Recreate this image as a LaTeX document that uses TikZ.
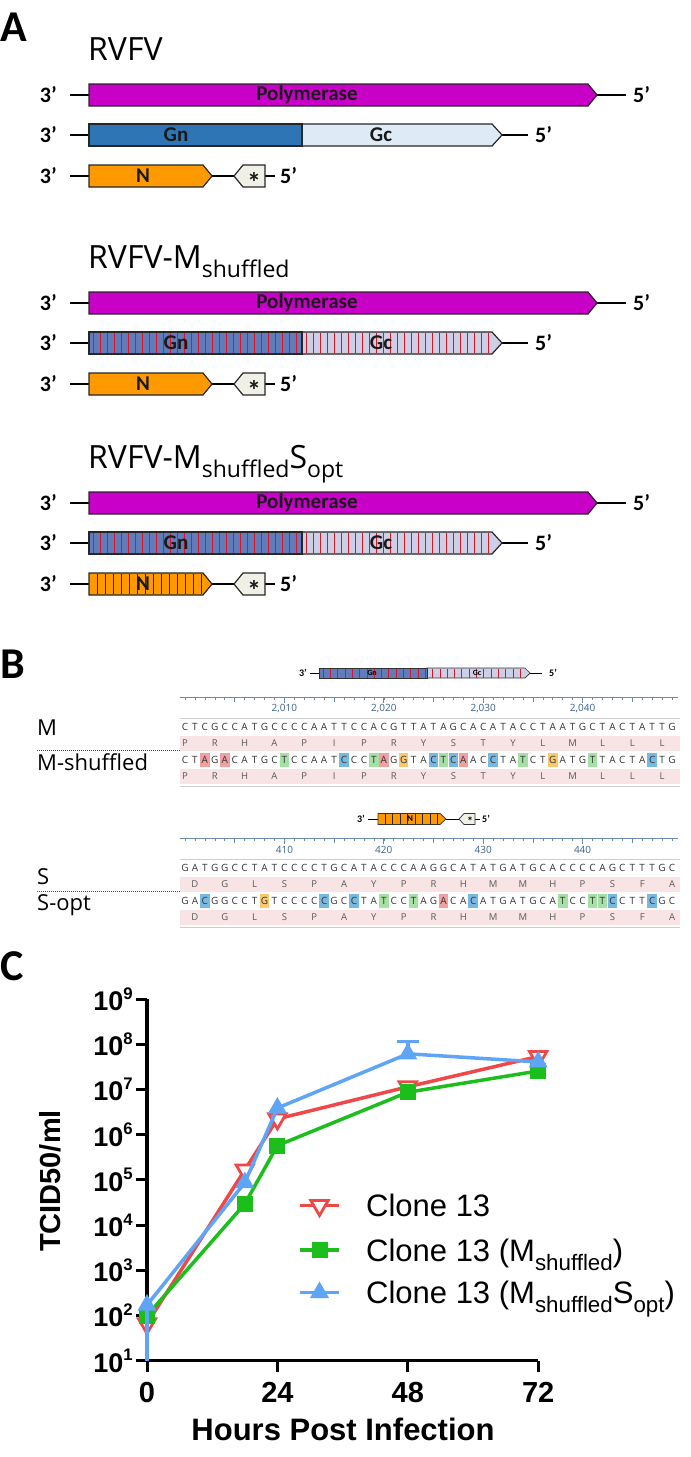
\documentclass[tikz,border=0pt]{standalone}
\usepackage{fontspec}
\setmainfont{Carlito}
\newfontfamily\opensans{Open Sans}
\newfontfamily\arialfont{Liberation Sans}
\usetikzlibrary{shapes.geometric}

\definecolor{polyc}{RGB}{200,0,200}
\definecolor{gnc}{RGB}{46,117,182}
\definecolor{gcc}{RGB}{222,235,247}
\definecolor{gnsh}{RGB}{96,124,186}
\definecolor{gcsh}{RGB}{204,207,230}
\definecolor{nc}{RGB}{255,153,0}
\definecolor{starc}{RGB}{240,240,230}
\definecolor{stripec}{RGB}{225,20,30}
\definecolor{rulec}{RGB}{110,138,170}
\definecolor{rulenum}{RGB}{60,95,140}
\definecolor{sepc}{RGB}{205,205,205}
\definecolor{aac}{RGB}{248,228,228}
\definecolor{hlA}{RGB}{240,160,160}
\definecolor{hlT}{RGB}{165,225,165}
\definecolor{hlC}{RGB}{120,185,225}
\definecolor{hlG}{RGB}{250,200,110}
\definecolor{redc}{RGB}{240,72,72}
\definecolor{greenc}{RGB}{28,190,28}
\definecolor{bluec}{RGB}{95,165,245}

\newcommand{\lowtext}[1]{\raisebox{-0.3em}{\scalebox{0.72}{#1}}}
\newcommand{\uptext}[1]{\raisebox{0.42em}{\scalebox{0.62}{#1}}}
% arrow shaped gene: start, body end, tip, y centre, half height, style
\newcommand{\genebar}[6]{\draw[#6] ({#1},{#4-#5}) -- ({#2},{#4-#5}) -- ({#3},{#4}) -- ({#2},{#4+#5}) -- ({#1},{#4+#5}) -- cycle;}
% box pointing left: tip, body start, body end, y centre, half height, style
\newcommand{\starbox}[6]{\draw[#6] ({#1},{#4}) -- ({#2},{#4-#5}) -- ({#3},{#4-#5}) -- ({#3},{#4+#5}) -- ({#2},{#4+#5}) -- cycle;}

\begin{document}
\begin{tikzpicture}[x=1pt,y=-1pt]
  \tikzstyle{outl}=[draw=black!85,line width=1.2pt]
  \tikzstyle{strand}=[draw=black,line width=2pt]
  \tikzstyle{endlab}=[font=\fontsize{22}{22}\selectfont\bfseries,inner sep=0pt]
  \tikzstyle{barlab}=[font=\fontsize{21}{21}\selectfont\bfseries,text=black!90,inner sep=0pt]
  \tikzstyle{starlab}=[font=\fontsize{28}{28}\selectfont\bfseries,text=black!90,inner sep=0pt,yshift=-6pt]
  \tikzstyle{title}=[font=\opensans\fontsize{32}{32}\selectfont,anchor=base west,inner sep=0pt]
  \tikzstyle{panel}=[font=\fontsize{44}{44}\selectfont\bfseries,anchor=north west,inner sep=0pt]
  \tikzstyle{redstripe}=[draw=stripec,line width=0.9pt]
  \tikzstyle{blackstripe}=[draw=black!85,line width=0.9pt]
  \tikzstyle{seqlet}=[font=\opensans\fontsize{10}{10}\selectfont,text=black!80,inner sep=0pt]
  \tikzstyle{aalet}=[font=\opensans\fontsize{9.5}{10}\selectfont,text=black!65,inner sep=0pt]
  \tikzstyle{rulernum}=[font=\opensans\fontsize{10}{10}\selectfont,text=rulenum,inner sep=0pt]
  \tikzstyle{seqname}=[font=\opensans\fontsize{22}{22}\selectfont,anchor=base west,inner sep=0pt]
  \tikzstyle{tinylab}=[font=\fontsize{10}{10}\selectfont\bfseries,inner sep=0pt]
  \tikzstyle{axis}=[draw=black,line width=3.5pt]
  \tikzstyle{ylab}=[font=\arialfont\bfseries\fontsize{27}{27}\selectfont,inner sep=0pt]
  \tikzstyle{xlab}=[font=\arialfont\bfseries\fontsize{29}{29}\selectfont,inner sep=0pt]
  \tikzstyle{redline}=[draw=redc,line width=3.5pt]
  \tikzstyle{greenline}=[draw=greenc,line width=3.5pt]
  \tikzstyle{blueline}=[draw=bluec,line width=3.5pt]
  \tikzstyle{redmark}=[regular polygon,regular polygon sides=3,shape border rotate=180,draw=redc,line width=2.8pt,fill=white,minimum size=20pt,inner sep=0pt]
  \tikzstyle{greenmark}=[rectangle,fill=greenc,minimum size=16pt,inner sep=0pt]
  \tikzstyle{bluemark}=[regular polygon,regular polygon sides=3,fill=bluec,minimum size=22pt,inner sep=0pt]
  \tikzstyle{legtext}=[font=\arialfont\fontsize{31}{31}\selectfont,anchor=base west,inner sep=0pt]

  \useasboundingbox (0,0) rectangle (691,1457);

  \node[panel] (pa) at (0,13) {A};
  \node[panel] (pb) at (0,650) {B};
  \node[panel] (pc) at (0,951) {C};

  % ---------- A: genome segments ----------
  \foreach \gy/\g/\gn/\gc/\name in {0/1/gnc/gcc/{RVFV},208/2/gnsh/gcsh/{RVFV-M\lowtext{shuffled}},408/3/gnsh/gcsh/{RVFV-M\lowtext{shuffled}S\lowtext{opt}}} {
    \node[title] (t\g) at (88,{60+\gy}) {\name};
    % L
    \node[endlab,anchor=east] (Lthree\g) at (57,{95+\gy}) {3’};
    \coordinate (Lin\g) at (70,{95+\gy});
    \coordinate (Lout\g) at (626,{95+\gy});
    \draw[strand] (Lin\g) -- (Lout\g);
    \genebar{89}{588}{597}{95+\gy}{11}{outl,fill=polyc}
    \node[barlab] (pol\g) at (307,{95+\gy}) {Polymerase};
    \node[endlab,anchor=west] (Lfive\g) at (633,{95+\gy}) {5’};
    % M
    \node[endlab,anchor=east] (Mthree\g) at (57,{135+\gy}) {3’};
    \coordinate (Min\g) at (70,{135+\gy});
    \coordinate (Mout\g) at (528,{135+\gy});
    \draw[strand] (Min\g) -- (Mout\g);
    \genebar{302}{492}{502}{135+\gy}{11}{outl,fill=\gc}
    \draw[outl,fill=\gn] (89,{124+\gy}) rectangle (302,{146+\gy});
    \ifnum\g>1
      \foreach \sx in {93,100,...,299} \draw[redstripe] (\sx,{124.8+\gy}) -- (\sx,{145.2+\gy});
      \foreach \sx in {306,313,...,490} \draw[redstripe] (\sx,{124.8+\gy}) -- (\sx,{145.2+\gy});
    \fi
    \node[barlab] (gn\g) at (176,{135+\gy}) {Gn};
    \node[barlab] (gc\g) at (381,{135+\gy}) {Gc};
    \node[endlab,anchor=west] (Mfive\g) at (535,{135+\gy}) {5’};
    % S
    \node[endlab,anchor=east] (Sthree\g) at (57,{176+\gy}) {3’};
    \coordinate (Sin\g) at (70,{176+\gy});
    \coordinate (Sout\g) at (275,{176+\gy});
    \draw[strand] (Sin\g) -- (Sout\g);
    \genebar{89}{203}{212}{176+\gy}{11}{outl,fill=nc}
    \ifnum\g=3
      \foreach \sx in {97,105,...,201} \draw[blackstripe] (\sx,{165.8+\gy}) -- (\sx,{186.2+\gy});
    \fi
    \starbox{234}{243}{265}{176+\gy}{11}{outl,fill=starc}
    \node[barlab] (n\g) at (143,{176+\gy}) {N};
    \node[starlab] (st\g) at (254,{176+\gy}) {*};
    \node[endlab,anchor=west] (Sfive\g) at (280,{176+\gy}) {5’};
  }

  % ---------- B: M segment alignment ----------
  \node[tinylab,anchor=east] (mthree) at (307,673) {3’};
  \coordinate (min) at (310,673);
  \coordinate (mout) at (542,673);
  \draw[line width=1pt] (min) -- (mout);
  \genebar{427}{525}{530}{673}{5}{draw=black!80,line width=0.7pt,fill=gcsh}
  \draw[draw=black!80,line width=0.7pt,fill=gnsh] (319,668) rectangle (427,678);
  \foreach \sx in {323,330.3,...,524} \draw[draw=stripec,line width=0.6pt] (\sx,668.5) -- (\sx,677.5);
  \node[font=\fontsize{8}{8}\selectfont\bfseries,inner sep=0pt] (mgn) at (372,673) {Gn};
  \node[font=\fontsize{8}{8}\selectfont\bfseries,inner sep=0pt] (mgc) at (477,673) {Gc};
  \node[tinylab,anchor=west] (mfive) at (549,673) {5’};

  \draw[rulec,line width=0.8pt] (180,697) -- (678,697);
  \foreach \i in {0,...,49} \draw[rulec,line width=0.6pt] ({185+\i*9.94},697) -- ++(0,3);
  \foreach \i in {5,15,25,35,45} \draw[rulec,line width=0.6pt] ({185+\i*9.94},697) -- ++(0,4.5);
  \foreach \i/\lab in {10/{2,010},20/{2,020},30/{2,030},40/{2,040}} {
    \draw[rulec,line width=0.7pt] ({185+\i*9.94},697) -- ++(0,6);
    \node[rulernum] (mr\i) at ({185+\i*9.94},709) {\lab};
  }
  \draw[sepc,line width=0.8pt] (180,718) -- (680,718);
  \foreach \c [count=\i from 0] in {C,T,C,G,C,C,A,T,G,C,C,C,C,A,A,T,T,C,C,A,C,G,T,T,A,T,A,G,C,A,C,A,T,A,C,C,T,A,A,T,G,C,T,A,C,T,A,T,T,G}
    \node[seqlet] (ma\i) at ({185+\i*9.94},727) {\c};
  \fill[aac] (180,736) rectangle (680,751);
  \foreach \a [count=\i from 0] in {P,R,H,A,P,I,P,R,Y,S,T,Y,L,M,L,L,L}
    \node[aalet] (mpa\i) at ({185+3*\i*9.94},743.5) {\a};
  \foreach \i/\c in {2/A,4/A,10/T,16/C,19/T,20/A,22/G,25/C,26/T,27/C,28/A,31/C,34/T,37/G,41/T,47/C}
    \fill[fill=hl\c] ({185+\i*9.94-4.8},753) rectangle ++(9.6,14);
  \foreach \c [count=\i from 0] in {C,T,A,G,A,C,A,T,G,C,T,C,C,A,A,T,C,C,C,T,A,G,G,T,A,C,T,C,A,A,C,C,T,A,T,C,T,G,A,T,G,T,T,A,C,T,A,C,T,G}
    \node[seqlet] (mb\i) at ({185+\i*9.94},760) {\c};
  \fill[aac] (180,769) rectangle (680,784);
  \foreach \a [count=\i from 0] in {P,R,H,A,P,I,P,R,Y,S,T,Y,L,M,L,L,L}
    \node[aalet] (mpb\i) at ({185+3*\i*9.94},776.5) {\a};
  \draw[sepc,line width=0.8pt] (180,786) -- (680,786);

  \node[seqname] (mname) at (37,735) {M};
  \coordinate (mdl) at (37,750);
  \coordinate (mdr) at (180,750);
  \draw[black!70,densely dotted,line width=1pt] (mdl) -- (mdr);
  \node[seqname] (msname) at (37,770) {M-shuffled};

  % ---------- B: S segment alignment ----------
  \node[tinylab,anchor=east] (sthree) at (365,819) {3’};
  \coordinate (sin) at (368,819);
  \coordinate (sout) at (480,819);
  \draw[line width=1pt] (sin) -- (sout);
  \genebar{378}{440}{446}{819}{5.5}{draw=black!80,line width=0.7pt,fill=nc}
  \foreach \sx in {385,392.5,...,438} \draw[draw=black!85,line width=0.7pt] (\sx,814) -- (\sx,824);
  \starbox{459}{464}{475}{819}{5.5}{draw=black!80,line width=0.7pt,fill=starc}
  \node[font=\fontsize{9}{9}\selectfont\bfseries,inner sep=0pt] (sn) at (410,819) {N};
  \node[font=\fontsize{12}{12}\selectfont\bfseries,inner sep=0pt,yshift=-2.5pt] (sst) at (470,819) {*};
  \node[tinylab,anchor=west] (sfive) at (482,819) {5’};

  \draw[rulec,line width=0.8pt] (180,838) -- (678,838);
  \foreach \i in {0,...,49} \draw[rulec,line width=0.6pt] ({185+\i*9.94},838) -- ++(0,3);
  \foreach \i in {5,15,25,35,45} \draw[rulec,line width=0.6pt] ({185+\i*9.94},838) -- ++(0,4.5);
  \foreach \i/\lab in {10/410,20/420,30/430,40/440} {
    \draw[rulec,line width=0.7pt] ({185+\i*9.94},838) -- ++(0,6);
    \node[rulernum] (sr\i) at ({185+\i*9.94},850) {\lab};
  }
  \draw[sepc,line width=0.8pt] (180,859) -- (680,859);
  \foreach \c [count=\i from 0] in {G,A,T,G,G,C,C,T,A,T,C,C,C,C,T,G,C,A,T,A,C,C,C,A,A,G,G,C,A,T,A,T,G,A,T,G,C,A,C,C,C,C,A,G,C,T,T,T,G,C}
    \node[seqlet] (sa\i) at ({185+\i*9.94},868) {\c};
  \fill[aac] (180,877) rectangle (680,892);
  \foreach \a [count=\i from 0] in {D,G,L,S,P,A,Y,P,R,H,M,M,H,P,S,F,A}
    \node[aalet] (spa\i) at ({185+(3*\i+1)*9.94},884.5) {\a};
  \foreach \i/\c in {2/C,8/G,14/C,17/C,20/T,23/T,26/A,29/C,38/T,41/T,42/T,43/C,47/C}
    \fill[fill=hl\c] ({185+\i*9.94-4.8},894) rectangle ++(9.6,14);
  \foreach \c [count=\i from 0] in {G,A,C,G,G,C,C,T,G,T,C,C,C,C,C,G,C,C,T,A,T,C,C,T,A,G,A,C,A,C,A,T,G,A,T,G,C,A,T,C,C,T,T,C,C,T,T,C,G,C}
    \node[seqlet] (sb\i) at ({185+\i*9.94},901) {\c};
  \fill[aac] (180,910) rectangle (680,925);
  \foreach \a [count=\i from 0] in {D,G,L,S,P,A,Y,P,R,H,M,M,H,P,S,F,A}
    \node[aalet] (spb\i) at ({185+(3*\i+1)*9.94},917.5) {\a};
  \draw[sepc,line width=0.8pt] (180,927) -- (680,927);

  \node[seqname] (sname) at (37,884) {S};
  \coordinate (sdl) at (37,891);
  \coordinate (sdr) at (180,891);
  \draw[black!70,densely dotted,line width=1pt] (sdl) -- (sdr);
  \node[seqname] (soname) at (37,910) {S-opt};

  % ---------- C: growth curves ----------
  \begin{scope}[shift={(147pt,-1360.7pt)},x=5.4333pt,y=45.2pt]
    \coordinate (ytop) at (0,8);
    \coordinate (orig) at (0,0);
    \coordinate (xend) at (72,0);
    \draw[axis,line join=miter] (ytop) -- (orig) -- (xend);
    \foreach \v in {0,...,8} {
      \pgfmathtruncatemacro{\e}{\v+1}
      \draw[axis,line width=3pt] (0,\v) -- ++(-11pt,0);
      \node[ylab,anchor=east] (yl\v) at ([xshift=-14pt]0,\v) {10\uptext{\e}};
    }
    \foreach \t in {0,24,48,72} {
      \draw[axis,line width=3pt] (\t,0) -- ++(0,-11pt);
      \node[xlab] (xl\t) at ([yshift=-32pt]\t,0) {\t};
    }
    % data (log10 titre minus 1)
    \coordinate (r0) at (0,0.82);   \coordinate (r18) at (18,4.22);
    \coordinate (r24) at (24,5.35); \coordinate (r48) at (48,6.06);
    \coordinate (r72) at (72,6.73);
    \coordinate (g0) at (0,1.0);    \coordinate (g18) at (18,3.47);
    \coordinate (g24) at (24,4.76); \coordinate (g48) at (48,5.94);
    \coordinate (g72) at (72,6.41);
    \coordinate (b0) at (0,1.23);   \coordinate (b18) at (18,3.94);
    \coordinate (b24) at (24,5.59); \coordinate (b48) at (48,6.79);
    \coordinate (b72) at (72,6.61);
    \coordinate (b48up) at (48,7.06);
    \coordinate (b0lo) at (0,0);

    \draw[redline] (r0) -- (r18) -- (r24) -- (r48) -- (r72);
    \foreach \p in {r0,r18,r24,r48,r72} \node[redmark] (m\p) at (\p) {};
    \draw[greenline] (g0) -- (g18) -- (g24) -- (g48) -- (g72);
    \foreach \p in {g0,g18,g24,g48,g72} \node[greenmark] (m\p) at (\p) {};
    \draw[blueline] (b0lo) -- (b0);
    \draw[blueline] (b48) -- (b48up);
    \draw[blueline] ([xshift=-11pt]b48up) -- ([xshift=11pt]b48up);
    \draw[blueline] (b0) -- (b18) -- (b24) -- (b48) -- (b72);
    \foreach \p in {b0,b18,b24,b48,b72} \node[bluemark] (m\p) at (\p) {};
  \end{scope}

  \node[font=\arialfont\bfseries\fontsize{29}{29}\selectfont,rotate=90,inner sep=0pt] (ytitle) at (50,1181) {TCID50/ml};
  \node[font=\arialfont\bfseries\fontsize{31}{31}\selectfont,inner sep=0pt] (xtitle) at (343,1429) {Hours Post Infection};

  % legend
  \coordinate (la1) at (300,1205.5); \coordinate (lb1) at (339,1205.5);
  \coordinate (la2) at (300,1250);   \coordinate (lb2) at (339,1250);
  \coordinate (la3) at (300,1292.5); \coordinate (lb3) at (339,1292.5);
  \draw[redline] (la1) -- (lb1);
  \node[redmark] (lm1) at (319.5,1205.5) {};
  \draw[greenline] (la2) -- (lb2);
  \node[greenmark] (lm2) at (319.5,1250) {};
  \draw[blueline] (la3) -- (lb3);
  \node[bluemark] (lm3) at (319.5,1292.5) {};
  \node[legtext] (lt1) at (366,1216.5) {Clone 13};
  \node[legtext] (lt2) at (366,1261) {Clone 13 (M\lowtext{shuffled})};
  \node[legtext] (lt3) at (366,1303.5) {Clone 13 (M\lowtext{shuffled}S\lowtext{opt})};
\end{tikzpicture}
\end{document}
